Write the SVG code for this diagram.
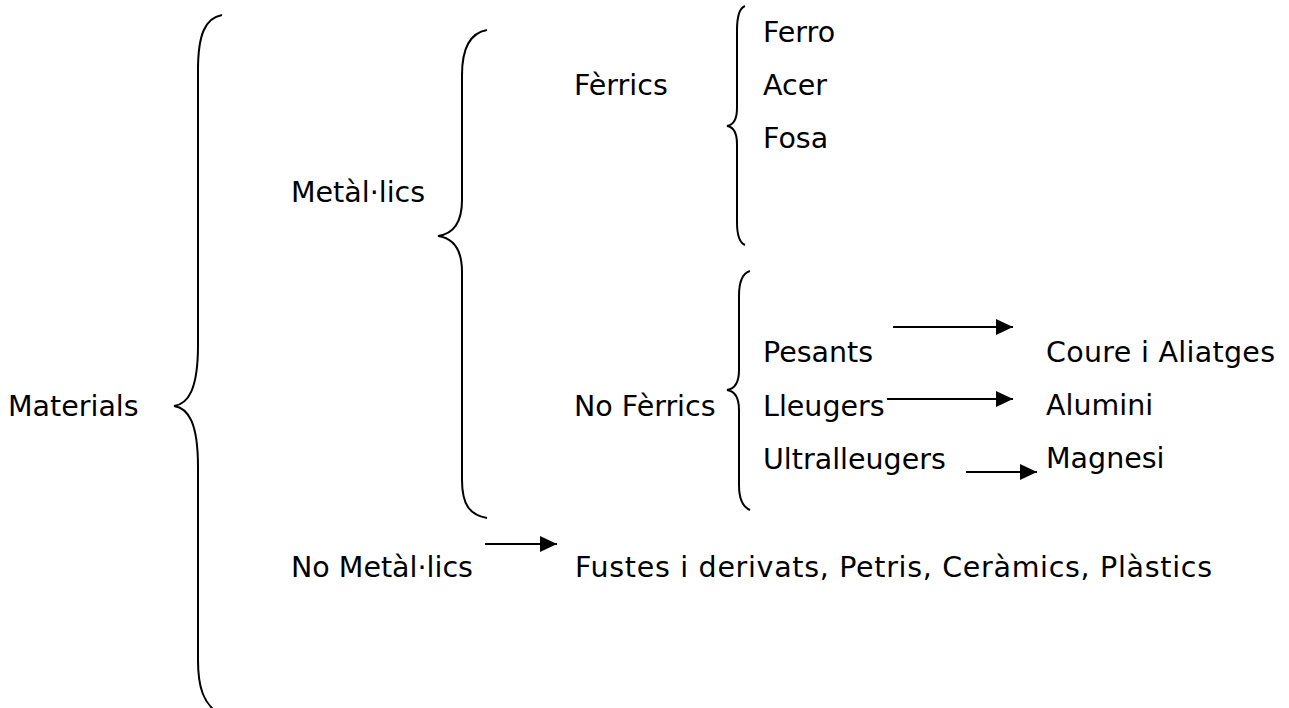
<svg xmlns="http://www.w3.org/2000/svg" width="1289" height="708" viewBox="0 0 1289 708">
<defs>
<style>
text{font-family:"DejaVu Sans",Verdana,sans-serif;font-size:28.5px;fill:#000}
.br{fill:none;stroke:#000;stroke-width:2}
.ar{fill:none;stroke:#000;stroke-width:2}
</style>
<marker id="ah" markerWidth="20" markerHeight="20" viewBox="0 0 20 20" refX="17" refY="10" orient="auto" markerUnits="userSpaceOnUse">
<path d="M0,2 L17,10 L0,18 Z" fill="#000"/>
</marker>
</defs>
<rect width="1289" height="708" fill="#fff"/>
<g id="materials">
<path class="br" d="M222,15 C205,18 198,35 198,70 L198,345 C198,390 188,404 174,406 C188,408 198,422 198,467 L198,660 C198,690 205,702 214,710"/>
<text x="8" y="416">Materials</text>
</g>
<g id="metallics">
<path class="br" d="M487,30 C470,33 462,48 462,75 L462,200 C462,225 452,234 438,236 C452,238 462,247 462,272 L462,480 C462,505 470,515 487,518"/>
<text x="291" y="202">Metàl·lics</text>
</g>
<g id="ferrics">
<path class="br" d="M745,6 C740,8 737,16 737,30 L737,108 C737,120 733,125 727,126 C733,127 737,132 737,144 L737,222 C737,236 740,243 745,245"/>
<text x="574" y="95">Fèrrics</text>
</g>
<g id="ferro"><text x="763" y="42">Ferro</text></g>
<g id="acer"><text x="763" y="95">Acer</text></g>
<g id="fosa"><text x="763" y="148">Fosa</text></g>
<g id="no-ferrics">
<path class="br" d="M750,271 C743,273 739,282 739,296 L739,370 C739,383 734,389 727,390 C734,391 739,397 739,410 L739,485 C739,499 743,507 750,510"/>
<text x="574" y="416">No Fèrrics</text>
</g>
<g id="pesants"><text x="763" y="362">Pesants</text></g>
<g id="lleugers"><text x="763" y="416">Lleugers</text></g>
<g id="ultralleugers"><text x="763" y="469">Ultralleugers</text></g>
<g id="coure"><text x="1046" y="362" textLength="229" lengthAdjust="spacing">Coure i Aliatges</text></g>
<g id="alumini"><text x="1046" y="415">Alumini</text></g>
<g id="magnesi"><text x="1046" y="468">Magnesi</text></g>
<g id="no-metallics"><text x="291" y="577">No Metàl·lics</text></g>
<g id="fustes"><text x="575" y="577" textLength="637" lengthAdjust="spacing">Fustes i derivats, Petris, Ceràmics, Plàstics</text></g>
<g id="connectors">
<line class="ar" x1="893" y1="327" x2="1013" y2="327" marker-end="url(#ah)"/>
<line class="ar" x1="887" y1="399" x2="1013" y2="399" marker-end="url(#ah)"/>
<line class="ar" x1="966" y1="472" x2="1037" y2="472" marker-end="url(#ah)"/>
<line class="ar" x1="485" y1="544" x2="557" y2="544" marker-end="url(#ah)"/>
</g>
</svg>
